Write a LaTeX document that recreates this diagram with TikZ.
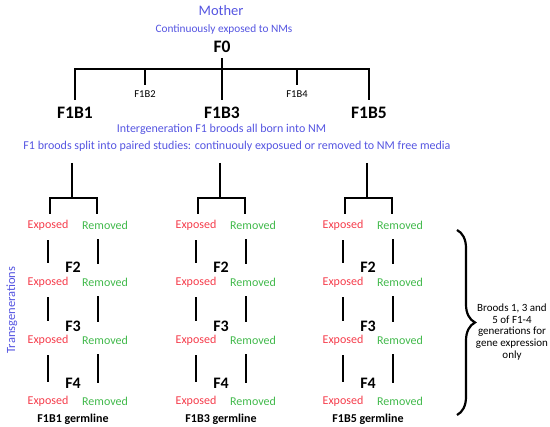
\documentclass[tikz,border=0pt]{standalone}
\usepackage{fontspec}
\setmainfont{Carlito}
\usepackage{tikz}
\usetikzlibrary{decorations.pathreplacing,calc}
\definecolor{nmblue}{RGB}{85,85,225}
\definecolor{expred}{RGB}{245,60,75}
\definecolor{remgreen}{RGB}{65,185,75}

\begin{document}
\begin{tikzpicture}[x=1pt,y=-1pt,
    note/.style={text=nmblue,inner sep=0pt,font=\fontsize{12}{14}\selectfont},
    gen/.style={inner sep=0pt,font=\fontsize{17.5}{20}\selectfont\bfseries},
    fgen/.style={inner sep=0pt,font=\fontsize{16}{18}\selectfont\bfseries},
    brood/.style={inner sep=0pt,font=\fontsize{10.5}{12}\selectfont},
    exposed/.style={text=expred,inner sep=0pt,font=\fontsize{12}{14}\selectfont},
    removed/.style={text=remgreen,inner sep=0pt,font=\fontsize{12}{14}\selectfont},
    germ/.style={inner sep=0pt,font=\fontsize{12}{14}\selectfont\bfseries},
    tree/.style={line width=2.6pt},
    link/.style={line width=2.6pt,shorten <=10pt,shorten >=14pt}
  ]
    \useasboundingbox (0,0) rectangle (550,427);
    % mother and F1 broods
    \node[note,font=\fontsize{14.5}{16}\selectfont] (mother) at (221,11) {Mother};
    \node[note,font=\fontsize{11.3}{13}\selectfont] (cont) at (224,29) {Continuously exposed to NMs};
    \node[gen] (F0) at (222,47) {F0};
    \coordinate (hub) at (221,69);
    \node[gen] (F1B1) at (75,113) {F1B1};
    \node[brood] (F1B2) at (145,94) {F1B2};
    \node[gen] (F1B3) at (222,113) {F1B3};
    \node[brood] (F1B4) at (297,94) {F1B4};
    \node[gen] (F1B5) at (369,113) {F1B5};
    \draw[tree] ([yshift=7pt]F1B1.north) |- (hub) -| ([yshift=7pt]F1B5.north);
    \draw[tree,shorten <=5pt] (F0.south) -- ([yshift=7pt]F1B3.north);
    \draw[tree] (F1B2 |- hub) -- ([yshift=5pt]F1B2.north);
    \draw[tree] (F1B4 |- hub) -- ([yshift=5pt]F1B4.north);
    \node[note] (inter) at (221.5,129) {Intergeneration F1 broods all born into NM};
    \node[note] (split) at (237,146) {F1 broods split into paired studies: continuouly exposued or removed to NM free media};
    % germlines
    \foreach \i/\cx in {1/72,3/220,5/367} {
      \coordinate (top\i) at (\cx,163);
      \coordinate (fork\i) at (\cx,198);
      \coordinate (le\i) at (\cx-22,214);
      \coordinate (re\i) at (\cx+25,214);
      \draw[tree] (top\i) -- (fork\i);
      \draw[tree] (le\i) |- (fork\i) -| (re\i);
      \foreach \r/\y in {1/225,2/282,3/340,4/401} {
        \node[exposed] (e\i\r) at (\cx-24,\y) {Exposed};
        \node[removed] (r\i\r) at (\cx+33,\y) {Removed};
      }
      \foreach \r/\n/\y in {2/F2/267,3/F3/326,4/F4/383} {
        \node[fgen] (f\i\r) at (\cx+1,\y) {\n};
      }
      \foreach \r/\s in {1/2,2/3,3/4} {
        \draw[link] (e\i\r.south) -- (e\i\s.north);
        \draw[link] ([xshift=-7pt]r\i\r.south) -- ([xshift=-7pt]r\i\s.north);
      }
      \node[germ] (g\i) at (\cx+1,419) {F1B\i\ germline};
    }
    \node[note,rotate=90,font=\fontsize{12.5}{14}\selectfont] (trans) at (12,310) {Transgenerations};
    % brace
    \coordinate (btop) at (457,230);
    \coordinate (bbot) at (457,415);
    \draw[line width=2.2pt,decorate,decoration={brace,amplitude=18pt}] (btop) -- (bbot);
    \node[brood,align=center,font=\fontsize{11}{11.6}\selectfont] (bnote) at (512,332)
      {Broods 1, 3 and\\5 of F1-4\\generations for\\gene expression\\only};
  \end{tikzpicture}
\end{document}
